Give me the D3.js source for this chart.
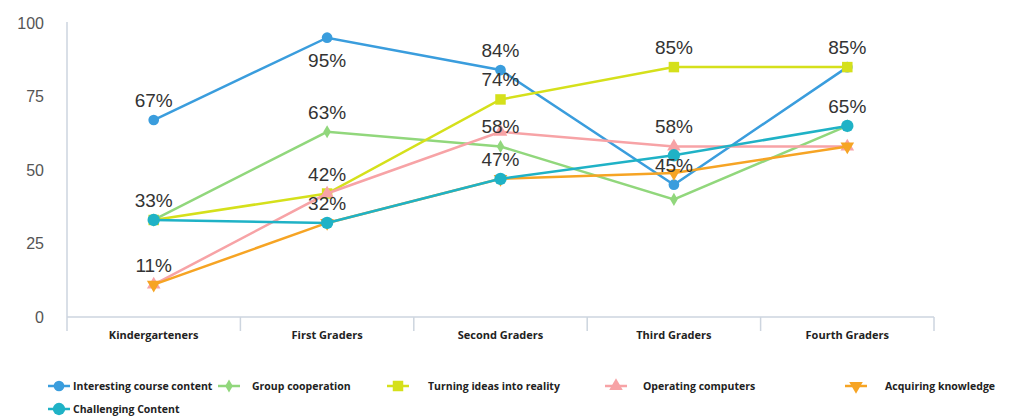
<!DOCTYPE html>
<html>
<head>
<meta charset="utf-8">
<script src="https://cdn.jsdelivr.net/npm/d3@7"></script>
<style>
  body { margin: 0; background: #fff; }
  svg { display: block; }
</style>
</head>
<body>
<svg id="chart" width="1009" height="419"></svg>
<script>
// categories on the x axis
var grades = ["Kindergarteners", "First Graders", "Second Graders", "Third Graders", "Fourth Graders"];
var yTicks = [0, 25, 50, 75, 100];

// series values (percent)
var interesting = [67, 95, 84, 45, 85];
var cooperation = [33, 63, 58, 40, 65];
var ideas = [33, 42, 74, 85, 85];
var computers = [11, 42, 63, 58, 58];
var knowledge = [11, 32, 47, 49, 58];
var challenging = [33, 32, 47, 55, 65];

// which points carry a value label (null = no label shown)
var interestingLabels = [67, 95, 84, 45, null];
var cooperationLabels = [null, 63, 58, null, null];
var ideasLabels = [null, 42, 74, 85, 85];
var computersLabels = [null, null, null, 58, null];
var knowledgeLabels = [11, null, null, null, null];
var challengingLabels = [33, 32, 47, null, 65];

var series = [
  { name: "Interesting course content", values: interesting, labels: interestingLabels, color: "#3a9ddd", symbol: "circle" },
  { name: "Group cooperation", values: cooperation, labels: cooperationLabels, color: "#91d77c", symbol: "diamond" },
  { name: "Turning ideas into reality", values: ideas, labels: ideasLabels, color: "#d5e01b", symbol: "square" },
  { name: "Operating computers", values: computers, labels: computersLabels, color: "#f7a3a6", symbol: "triangle" },
  { name: "Acquiring knowledge", values: knowledge, labels: knowledgeLabels, color: "#f6a424", symbol: "triangleDown" },
  { name: "Challenging Content", values: challenging, labels: challengingLabels, color: "#1fb2c6", symbol: "circleBig" }
];

var svg = d3.select("#chart");

var x = d3.scaleBand().domain(grades).range([67, 934]);
var y = d3.scaleLinear().domain([0, 100]).range([317, 23]);

var axisColor = "#cdd5df";

// y axis: plain line + numbers
svg.append("line")
  .attr("x1", 67).attr("x2", 67)
  .attr("y1", y(100) - 1).attr("y2", y(0))
  .attr("stroke", axisColor).attr("stroke-width", 1.5);

svg.append("g").selectAll("text")
  .data(yTicks)
  .enter().append("text")
  .attr("x", 44)
  .attr("y", function(d) { return y(d); })
  .attr("dy", "0.35em")
  .attr("text-anchor", "end")
  .style("font-family", "'Liberation Sans', Arial, sans-serif")
  .style("font-size", "16px")
  .style("fill", "#555")
  .text(function(d) { return d; });

// x axis
var gx = svg.append("g")
  .attr("transform", "translate(0," + y(0) + ")");
gx.append("line")
  .attr("x1", 67).attr("x2", 934)
  .attr("stroke", axisColor).attr("stroke-width", 1.5);
// boundary ticks between bands
var bounds = grades.map(function(g) { return x(g); }).concat([x.range()[1]]);
gx.selectAll(".bound")
  .data(bounds)
  .enter().append("line")
  .attr("x1", function(d) { return d; })
  .attr("x2", function(d) { return d; })
  .attr("y1", 0).attr("y2", 14)
  .attr("stroke", axisColor).attr("stroke-width", 1.5);
gx.selectAll(".lbl")
  .data(grades)
  .enter().append("text")
  .attr("x", function(d) { return x(d) + x.bandwidth() / 2; })
  .attr("y", 18)
  .attr("dy", "0.35em")
  .attr("text-anchor", "middle")
  .style("font-family", "'Open Sans', sans-serif")
  .style("font-weight", "bold")
  .style("font-size", "11px")
  .style("fill", "#222")
  .text(function(d) { return d; });

function cx(i) { return x(grades[i]) + x.bandwidth() / 2; }

function symbolPath(kind) {
  if (kind === "circle") return d3.symbol().type(d3.symbolCircle).size(90)();
  if (kind === "circleBig") return d3.symbol().type(d3.symbolCircle).size(120)();
  if (kind === "diamond") return d3.symbol().type(d3.symbolDiamond).size(50)();
  if (kind === "square") return d3.symbol().type(d3.symbolSquare).size(110)();
  if (kind === "triangle") return d3.symbol().type(d3.symbolTriangle).size(80)();
  if (kind === "triangleDown") return d3.symbol().type(d3.symbolTriangle).size(80)();
}

var line = d3.line()
  .x(function(d, i) { return cx(i); })
  .y(function(d) { return y(d); });

series.forEach(function(s) {
  var g = svg.append("g");
  g.append("path")
    .datum(s.values)
    .attr("d", line)
    .attr("fill", "none")
    .attr("stroke", s.color)
    .attr("stroke-width", 2.5);
  g.selectAll(".pt")
    .data(s.values)
    .enter().append("path")
    .attr("d", symbolPath(s.symbol))
    .attr("transform", function(d, i) {
      return "translate(" + cx(i) + "," + y(d) + ")" + (s.symbol === "triangleDown" ? " rotate(180)" : "");
    })
    .attr("fill", s.color);
});

// value labels, drawn last
series.forEach(function(s) {
  var pts = [];
  s.labels.forEach(function(l, i) {
    if (l !== null) pts.push({ i: i, label: l, v: s.values[i] });
  });
  svg.append("g").selectAll("text")
    .data(pts)
    .enter().append("text")
    .attr("x", function(d) { return cx(d.i); })
    // the 95% label sits under the point (no room above)
    .attr("y", function(d) { return d.v > 90 ? y(d.v) + 29 : y(d.v) - 13; })
    .attr("text-anchor", "middle")
    .style("font-family", "'Liberation Sans', Arial, sans-serif")
    .style("font-size", "19px")
    .style("fill", "#333")
    .text(function(d) { return d.label + "%"; });
});

// legend
var legendItems = [
  { i: 0, x: 48, y: 386, tx: 73 },
  { i: 1, x: 218, y: 386, tx: 252 },
  { i: 2, x: 387, y: 386, tx: 428 },
  { i: 3, x: 605, y: 386, tx: 643 },
  { i: 4, x: 845, y: 386, tx: 885 },
  { i: 5, x: 48, y: 409, tx: 73 }
];
var lg = svg.append("g");
legendItems.forEach(function(it) {
  var s = series[it.i];
  lg.append("line")
    .attr("x1", it.x).attr("x2", it.x + 22)
    .attr("y1", it.y).attr("y2", it.y)
    .attr("stroke", s.color).attr("stroke-width", 2.5);
  lg.append("path")
    .attr("d", symbolPath(s.symbol))
    .attr("transform", "translate(" + (it.x + 11) + "," + it.y + ")" + (s.symbol === "triangleDown" ? " rotate(180)" : ""))
    .attr("fill", s.color);
  lg.append("text")
    .attr("x", it.tx)
    .attr("y", it.y)
    .attr("dy", "0.35em")
    .style("font-family", "'Open Sans', sans-serif")
    .style("font-weight", "bold")
    .style("font-size", "10.5px")
    .style("fill", "#222")
    .text(s.name);
});
</script>
</body>
</html>
